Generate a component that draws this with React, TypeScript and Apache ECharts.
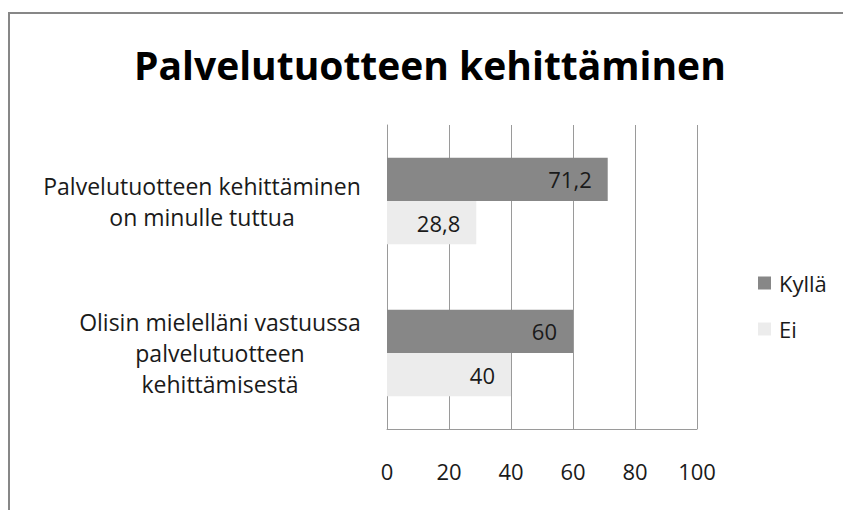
import React, { useEffect, useRef } from "react";
import * as echarts from "echarts";

const titleText = "Palvelutuotteen kehittäminen";
const categories = [
  "Palvelutuotteen kehittäminen\non minulle tuttua",
  "Olisin mielelläni vastuussa\npalvelutuotteen\nkehittämisestä",
];
const seriesNames = ["Kyllä", "Ei"];
const kyllaValues = [71.2, 60];
const eiValues = [28.8, 40];
const xTicks = [0, 20, 40, 60, 80, 100];

const FONT = "'Open Sans', 'Noto Sans', sans-serif";
const LABEL_SIZE = 23;

function measure(text: string, size: number, weight = "normal"): number {
  const c = document.createElement("canvas").getContext("2d");
  if (!c) return text.length * size * 0.5;
  c.font = `${weight} ${size}px 'Open Sans'`;
  return c.measureText(text).width;
}

export default function App() {
  const ref = useRef<HTMLDivElement>(null);
  useEffect(() => {
    if (!ref.current) return;
    const chart = echarts.init(ref.current, undefined, { renderer: "svg" });
    const rich: Record<string, any> = {};
    categories.forEach((c, i) => {
      const w = Math.max(...c.split("\n").map((l) => measure(l, LABEL_SIZE)));
      rich["c" + i] = {
        width: Math.ceil(w),
        align: "center",
        fontSize: LABEL_SIZE,
        fontFamily: FONT,
        color: "#1a1a1a",
        lineHeight: 31,
      };
    });
    chart.setOption({
      animation: false,
      backgroundColor: "#ffffff",
      title: {
        text: titleText,
        left: 134,
        top: 44,
        padding: 0,
        textStyle: {
          fontFamily: FONT,
          fontWeight: "bold",
          fontSize: 39,
          lineHeight: 40,
          color: "#000000",
        },
      },
      legend: {
        orient: "vertical",
        left: 758,
        top: 272,
        padding: 0,
        itemWidth: 13,
        itemHeight: 13,
        itemGap: 24,
        icon: "rect",
        data: seriesNames,
        textStyle: {
          fontFamily: FONT,
          fontSize: 22,
          lineHeight: 22,
          color: "#1a1a1a",
          padding: [0, 0, 0, 3],
        },
      },
      grid: { left: 387, top: 125, width: 310, bottom: 81, containLabel: false },
      xAxis: {
        type: "value",
        min: 0,
        max: 100,
        interval: 20,
        axisLine: { show: true, lineStyle: { color: "#9a9a9a", width: 1 } },
        axisTick: { show: false },
        splitLine: { show: true, lineStyle: { color: "#9a9a9a", width: 1 } },
        axisLabel: {
          margin: 31,
          fontFamily: FONT,
          fontSize: 22,
          lineHeight: 22,
          color: "#1a1a1a",
          formatter: (v: number) => (xTicks.includes(v) ? String(v) : ""),
        },
      },
      yAxis: {
        type: "category",
        inverse: true,
        data: categories,
        axisLine: { show: true, lineStyle: { color: "#9a9a9a", width: 1 } },
        axisTick: { show: false },
        axisLabel: {
          margin: 26,
          align: "right",
          formatter: (v: string, idx: number) =>
            v
              .split("\n")
              .map((l) => `{c${idx}|${l}}`)
              .join("\n"),
          rich,
        },
      },
      series: [
        {
          name: seriesNames[0],
          type: "bar",
          data: kyllaValues,
          barGap: "0%",
          barCategoryGap: "43%",
          itemStyle: { color: "#878787" },
          label: {
            show: true,
            position: "insideRight",
            distance: 16,
            fontFamily: FONT,
            fontSize: 22,
            color: "#1a1a1a",
            formatter: (p: any) => String(p.value).replace(".", ","),
          },
        },
        {
          name: seriesNames[1],
          type: "bar",
          data: eiValues,
          barGap: "0%",
          barCategoryGap: "43%",
          itemStyle: { color: "#ececec" },
          label: {
            show: true,
            position: "insideRight",
            distance: 16,
            fontFamily: FONT,
            fontSize: 22,
            color: "#1a1a1a",
            formatter: (p: any) => String(p.value).replace(".", ","),
          },
        },
      ],
      graphic: [
        {
          type: "rect",
          silent: true,
          shape: { x: 9, y: 13, width: 900, height: 600 },
          style: { fill: "none", stroke: "#878787", lineWidth: 2 },
        },
      ],
    });
    return () => chart.dispose();
  }, []);
  return (
    <div
      ref={ref}
      style={{ position: "absolute", left: 0, top: 0, width: 843, height: 510 }}
    />
  );
}
